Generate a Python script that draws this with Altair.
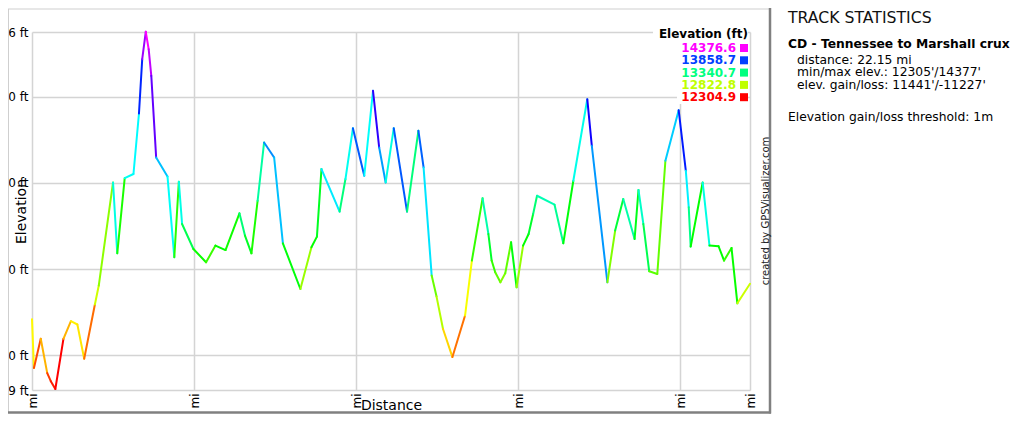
import altair as alt
import pandas as pd

# ---------------- data ----------------
dist_mi = [0.00, 0.06, 0.27, 0.47, 0.58, 0.72, 0.97, 1.20, 1.40, 1.61,
           1.94, 2.06, 2.50, 2.63, 2.86, 3.13, 3.30, 3.40, 3.51, 3.60,
           3.68, 3.83, 4.18, 4.39, 4.53, 4.63, 4.98, 5.37, 5.66, 5.97,
           6.40, 6.57, 6.77, 6.96, 7.16, 7.47, 7.74, 8.28, 8.62, 8.79,
           8.93, 9.49, 9.67, 9.90, 10.25, 10.52, 10.71, 10.91, 11.16, 11.57,
           11.92, 12.08, 12.33, 12.48, 12.68, 12.97, 13.36, 13.57, 13.90, 14.08,
           14.18, 14.29, 14.45, 14.60, 14.78, 14.95, 15.15, 15.32, 15.46, 15.58,
           16.12, 16.39, 16.70, 17.13, 17.27, 17.75, 17.99, 18.24, 18.59, 18.71,
           18.86, 19.04, 19.29, 19.54, 19.95, 20.17, 20.26, 20.32, 20.69, 20.90,
           21.18, 21.35, 21.58, 21.76, 22.15]

elev_ft = [12710, 12427, 12596, 12397, 12350, 12305, 12596, 12698, 12679, 12480,
           12795, 12905, 13503, 13092, 13528, 13552, 13903, 14218, 14377, 14276,
           14122, 13648, 13538, 13069, 13507, 13262, 13117, 13040, 13137, 13111,
           13324, 13195, 13092, 13397, 13735, 13648, 13150, 12885, 13127, 13189,
           13581, 13334, 13523, 13818, 13542, 14035, 13706, 13503, 13818, 13334,
           13803, 13590, 12963, 12841, 12653, 12490, 12731, 13050, 13411, 13204,
           13050, 12982, 12924, 12976, 13156, 12895, 13137, 13204, 13320, 13426,
           13374, 13150, 13513, 13986, 13716, 12924, 13224, 13407, 13175, 13459,
           13262, 12988, 12972, 13629, 13922, 13571, 13359, 13131, 13503, 13137,
           13133, 13050, 13123, 12802, 12915]

legend_title = "Elevation (ft)"
legend_values = [14376.6, 13858.7, 13340.7, 12822.8, 12304.9]

x_ticks = [0, 5, 10, 15, 20, 22.15]
y_ticks = [12299, 12500, 13000, 13500, 14000, 14376]
x_domain = [0, 22.15]
y_domain = [12299, 14376]

stats_title = "TRACK STATISTICS"
track_name = "CD - Tennessee to Marshall crux"
track_lines = ["distance: 22.15 mi",
               "min/max elev.: 12305'/14377'",
               "elev. gain/loss: 11441'/-11227'"]
threshold_line = "Elevation gain/loss threshold: 1m"
credit = "created by GPSVisualizer.com"

# ---------------- chart ----------------
FONT = "DejaVu Sans"
W, H = 718, 358

seg = pd.DataFrame({"d": dist_mi[:-1], "e": elev_ft[:-1],
                    "d2": dist_mi[1:], "e2": elev_ft[1:]})

cscale = alt.Scale(domain=[min(legend_values), max(legend_values)],
                   range=["#ff0000", "#ff00ff"], interpolate="hsl-long")
xs = alt.Scale(domain=x_domain, nice=False, zero=False)
ys = alt.Scale(domain=y_domain, nice=False, zero=False)

line = alt.Chart(seg).mark_rule(strokeWidth=2, strokeCap="round").encode(
    x=alt.X("d:Q", scale=xs, axis=alt.Axis(
        values=x_ticks, title="Distance", labelExpr="datum.value + ' mi'",
        labelAngle=270, labelAlign="right", labelBaseline="middle",
        labelPadding=3, labelFlush=False, labelOverlap=False, labelBound=False,
        ticks=False, domain=False, grid=True, labelFontSize=12,
        titleFontSize=14, titleFontWeight="normal", titleY=19,
        titleBaseline="alphabetic")),
    x2="d2",
    y=alt.Y("e:Q", scale=ys, axis=alt.Axis(
        values=y_ticks, title="Elevation", labelExpr="datum.value + ' ft'",
        labelPadding=4, labelFlush=False, labelOverlap=False, labelBound=False,
        labelBaseline="middle",
        ticks=False, domain=False, grid=True, labelFontSize=12,
        titleFontSize=14, titleFontWeight="normal", titleX=-7,
        titleBaseline="alphabetic")),
    y2="e2",
    color=alt.Color("e:Q", scale=cscale, legend=None),
)

dummy = pd.DataFrame({"a": [0]})


def rect(x, x2, y, y2, color="white"):
    return alt.Chart(dummy).mark_rect(color=color).encode(
        x=alt.value(x), x2=alt.value(x2), y=alt.value(y), y2=alt.value(y2))


def rule(x, x2, y, y2, color, w):
    return alt.Chart(dummy).mark_rule(color=color, strokeWidth=w).encode(
        x=alt.value(x), x2=alt.value(x2), y=alt.value(y), y2=alt.value(y2))


def txt(s, x, y, size=12, weight="normal", align="left", baseline="alphabetic",
        angle=0, color="#000"):
    return alt.Chart(pd.DataFrame({"t": [s]})).mark_text(
        align=align, baseline=baseline, font=FONT, fontSize=size,
        fontWeight=weight, angle=angle, color=color).encode(
        x=alt.value(x), y=alt.value(y), text="t:N")


layers = [line,
          rect(621, 716, -5, 9),
          rect(645, 716, 9, 72),
          txt(legend_title, 716, 5.5, weight="bold", align="right")]

for i, v in enumerate(legend_values):
    yy = 16 + 12.3 * i
    d = pd.DataFrame({"v": [v]})
    layers.append(alt.Chart(d).mark_text(
        align="right", baseline="middle", font=FONT, fontSize=12,
        fontWeight="bold").encode(
        x=alt.value(704), y=alt.value(yy),
        text=alt.Text("v:Q", format=".1f"),
        color=alt.Color("v:Q", scale=cscale, legend=None)))
    layers.append(alt.Chart(d).mark_square(size=64, opacity=1).encode(
        x=alt.value(712), y=alt.value(yy),
        color=alt.Color("v:Q", scale=cscale, legend=None)))

# frame of the chart box and mask under the clipped tick labels
layers += [
    rect(-24, 745, 379, 400),
    rule(-24, 738, -23, -23, "#cfcfcf", 1),
    rule(-23.5, -23.5, -23, 381, "#cfcfcf", 1),
    rule(738, 738, -24, 381.5, "#808080", 2.5),
    rule(-24, 739, 380.5, 380.5, "#808080", 2.5),
    txt(credit, 733.5, 179, size=10, align="center", baseline="middle",
        angle=270, color="#222"),
    txt(stats_title, 756, -9.3, size=15.7, color="#111"),
    txt(track_name, 756, 15.5, size=12.3, weight="bold"),
]
for i, s in enumerate(track_lines):
    layers.append(txt(s, 765, 31.5 + 12.5 * i, size=12.3))
layers.append(txt(threshold_line, 756, 89, size=12.3))

chart = alt.layer(*layers).properties(
    width=W, height=H,
    padding={"left": 24, "top": 24, "right": 266, "bottom": 26},
    autosize=alt.AutoSizeParams(type="none"),
).configure(font=FONT).configure_axis(
    labelFont=FONT, titleFont=FONT, labelColor="#000", titleColor="#000",
    gridColor="#d4d4d4", gridWidth=1.5,
).configure_view(stroke=None)

chart.save("out.html", embed_options={"renderer": "svg", "actions": False})
